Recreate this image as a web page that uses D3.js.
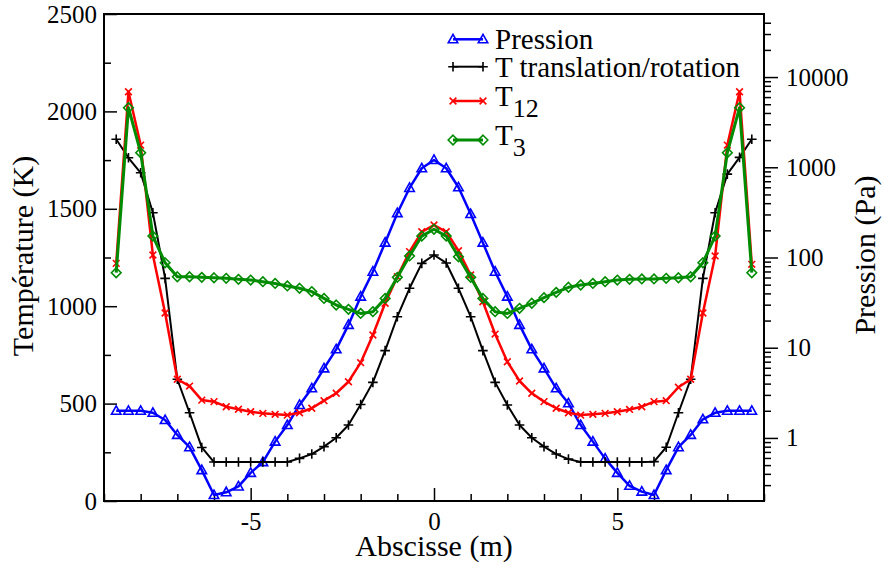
<!DOCTYPE html>
<html><head><meta charset="utf-8">
<script src="https://cdn.jsdelivr.net/npm/d3@7"></script>
<style>
body{margin:0;background:#fff;}
svg{display:block;}
text{font-family:"Liberation Serif","Times New Roman",serif;fill:#000;}
</style>
</head><body>
<svg id="c" width="884" height="565"></svg>
<script>
// ---- data (x in m, temperatures in K, pressure in Pa) ----
const xValues = [-8.667,-8.333,-8,-7.667,-7.333,-7,-6.667,-6.333,-6,-5.667,-5.333,-5,-4.667,-4.333,-4,-3.667,-3.333,-3,-2.667,-2.333,-2,-1.667,-1.333,-1,-0.667,-0.333,
 0,
 0.333,0.667,1,1.333,1.667,2,2.333,2.667,3,3.333,3.667,4,4.333,4.667,5,5.333,5.667,6,6.333,6.667,7,7.333,7.667,8,8.333,8.667];
const pression = [2.0,2.0,2.0,1.9,1.58,1.08,0.79,0.44,0.233,0.25,0.29,0.41,0.54,0.91,1.39,2.32,3.55,5.9,9.6,17.9,36.8,69.6,146,310,590,975,
 1205,
 975,600,303,146,69.6,36.8,17.9,9.6,5.9,3.55,2.42,1.39,0.91,0.59,0.41,0.295,0.254,0.233,0.44,0.79,1.08,1.61,1.9,2.0,2.0,2.0];
const tTransRot = [1857,1762,1685,1480,1143,625,453,275,200,200,200,200,200,200,200,219,241,279,325,390,495,609,772,946,1092,1220,
 1263,
 1222,1092,946,772,609,493,390,325,279,241,215,200,200,200,200,200,200,202,276,453,625,1143,1480,1678,1764,1857];
const t12 = [1220,2101,1827,1263,965,625,590,518,510,484,471,458,450,445,441,453,476,515,553,612,710,852,1015,1151,1280,1382,
 1417,
 1382,1285,1160,1023,857,715,616,553,510,476,453,441,445,450,458,470,484,510,515,584,625,965,1258,1827,2101,1215];
const t3 = [1172,2019,1788,1360,1223,1151,1151,1148,1146,1143,1138,1134,1126,1117,1104,1092,1075,1040,1006,984,963,972,1040,1148,1258,1360,
 1395,
 1360,1254,1148,1040,972,963,989,1015,1044,1071,1097,1109,1117,1126,1134,1138,1140,1140,1143,1146,1151,1223,1360,1788,2019,1172];

const xMajorTicks = [-5,0,5];
const xTickLabels = ["-5","0","5"];
const xMinorTicks = [-9,-8,-7,-6,-4,-3,-2,-1,1,2,3,4,6,7,8,9];
const tMajorTicks = [0,500,1000,1500,2000,2500];
const tMinorTicks = [250,750,1250,1750,2250];
const pMajorTicks = [1,10,100,1000,10000];
const pTickLabels = ["1","10","100","1000","10000"];
const pMinorTicks = [0.3,0.4,0.5,0.6,0.7,0.8,0.9,2,3,4,5,6,7,8,9,20,30,40,50,60,70,80,90,200,300,400,500,600,700,800,900,2000,3000,4000,5000,6000,7000,8000,9000,20000,30000,40000];

const seriesNames = ["Pression","T translation/rotation","T","T"];
const seriesSubs = [null,null,"12","3"];
const seriesColors = ["#0000ff","#000000","#ff0000","#008b00"];

// ---- layout ----
const L = 104, R = 764, T = 14, B = 501;
const svg = d3.select("#c");
const x = d3.scaleLinear().domain([-9, 9]).range([L, R]);
const yT = d3.scaleLinear().domain([0, 2500]).range([B, T]);
const yP = d3.scaleLog().domain([0.2, 50000]).range([B, T]);

const FS_TICK = 25, FS_TITLE = 30, FS_LEG = 29;

function styleAxis(g){
  g.select(".domain").remove();
  g.selectAll(".tick line").attr("stroke","#000").attr("stroke-width",1.5);
  g.selectAll(".tick text").attr("font-size",FS_TICK).attr("font-family","Liberation Serif");
}

// bottom axis
svg.append("g").attr("transform",`translate(0,${B})`)
  .call(d3.axisBottom(x).tickValues(xMinorTicks).tickSizeInner(-7).tickSizeOuter(0).tickFormat(""))
  .call(styleAxis);
svg.append("g").attr("transform",`translate(0,${B})`)
  .call(d3.axisBottom(x).tickValues(xMajorTicks).tickSizeInner(-13).tickSizeOuter(0).tickPadding(11)
        .tickFormat((d,i)=>xTickLabels[i]))
  .call(styleAxis);

// left axis
svg.append("g").attr("transform",`translate(${L},0)`)
  .call(d3.axisLeft(yT).tickValues(tMinorTicks).tickSizeInner(-7).tickSizeOuter(0).tickFormat(""))
  .call(styleAxis);
svg.append("g").attr("transform",`translate(${L},0)`)
  .call(d3.axisLeft(yT).tickValues(tMajorTicks).tickSizeInner(-13).tickSizeOuter(0).tickPadding(7)
        .tickFormat(d3.format("d")))
  .call(styleAxis);

// right axis (log)
svg.append("g").attr("transform",`translate(${R},0)`)
  .call(d3.axisRight(yP).tickValues(pMinorTicks).tickSizeInner(7).tickSizeOuter(0).tickFormat(""))
  .call(styleAxis);
svg.append("g").attr("transform",`translate(${R},0)`)
  .call(d3.axisRight(yP).tickValues(pMajorTicks).tickSizeInner(14).tickSizeOuter(0).tickPadding(8)
        .tickFormat((d,i)=>pTickLabels[i]))
  .call(styleAxis);

// frame
svg.append("rect").attr("x",L).attr("y",T).attr("width",R-L).attr("height",B-T)
  .attr("fill","none").attr("stroke","#000").attr("stroke-width",2);

// titles
svg.append("text").attr("x",(L+R)/2).attr("y",556).attr("text-anchor","middle")
  .attr("font-size",FS_TITLE).text("Abscisse (m)");
svg.append("text").attr("transform","translate(33,256) rotate(-90)").attr("text-anchor","middle")
  .attr("font-size",FS_TITLE).text("Température (K)");
svg.append("text").attr("transform","translate(875,255) rotate(-90)").attr("text-anchor","middle")
  .attr("font-size",FS_TITLE).text("Pression (Pa)");

// markers
const markerPaths = [
  s => `M0,${-s} L${s*0.95},${s*0.7} L${-s*0.95},${s*0.7} Z`,       // triangle
  s => `M${-s},0 L${s},0 M0,${-s} L0,${s}`,                           // plus
  s => `M${-s*0.8},${-s*0.8} L${s*0.8},${s*0.8} M${-s*0.8},${s*0.8} L${s*0.8},${-s*0.8}`, // x
  s => `M0,${-s} L${s},0 L0,${s} L${-s},0 Z`                          // diamond
];
const markerSizes = [5, 4.8, 4.2, 4.8];
const lineWidths = [2.5, 2, 2.5, 3];

const data = [
  xValues.map((v,i)=>({x:v, y:pression[i]})),
  xValues.map((v,i)=>({x:v, y:tTransRot[i]})),
  xValues.map((v,i)=>({x:v, y:t12[i]})),
  xValues.map((v,i)=>({x:v, y:t3[i]}))
];
const yScales = [yP, yT, yT, yT];

const plot = svg.append("g");
data.forEach((d, si) => {
  const ys = yScales[si];
  const line = d3.line().x(p=>x(p.x)).y(p=>ys(p.y));
  const g = plot.append("g");
  g.append("path").datum(d).attr("d", line).attr("fill","none")
    .attr("stroke", seriesColors[si]).attr("stroke-width", lineWidths[si]).attr("stroke-linejoin","round");
  g.selectAll("path.m").data(d).join("path").attr("class","m")
    .attr("transform", p=>`translate(${x(p.x)},${ys(p.y)})`)
    .attr("d", markerPaths[si](markerSizes[si]))
    .attr("fill","none").attr("stroke", seriesColors[si]).attr("stroke-width",1.6);
});

// legend
const legLineY = [39.3, 66.7, 101, 140];
const legTextY = [49.3, 76.7, 106, 145];
const lx1 = 453, lx2 = 483, ltx = 495;
seriesNames.forEach((name, si) => {
  const g = svg.append("g");
  g.append("line").attr("x1",lx1).attr("x2",lx2).attr("y1",legLineY[si]).attr("y2",legLineY[si])
    .attr("stroke",seriesColors[si]).attr("stroke-width",lineWidths[si]);
  [lx1,lx2].forEach(px => {
    g.append("path").attr("transform",`translate(${px},${legLineY[si]})`)
      .attr("d", markerPaths[si](markerSizes[si])).attr("fill","none")
      .attr("stroke",seriesColors[si]).attr("stroke-width",1.6);
  });
  const t = g.append("text").attr("x",ltx).attr("y",legTextY[si]).attr("font-size",FS_LEG).text(name);
  if (seriesSubs[si]) {
    t.append("tspan").attr("dy",11).attr("font-size",26).text(seriesSubs[si]);
  }
});
</script>
</body></html>
